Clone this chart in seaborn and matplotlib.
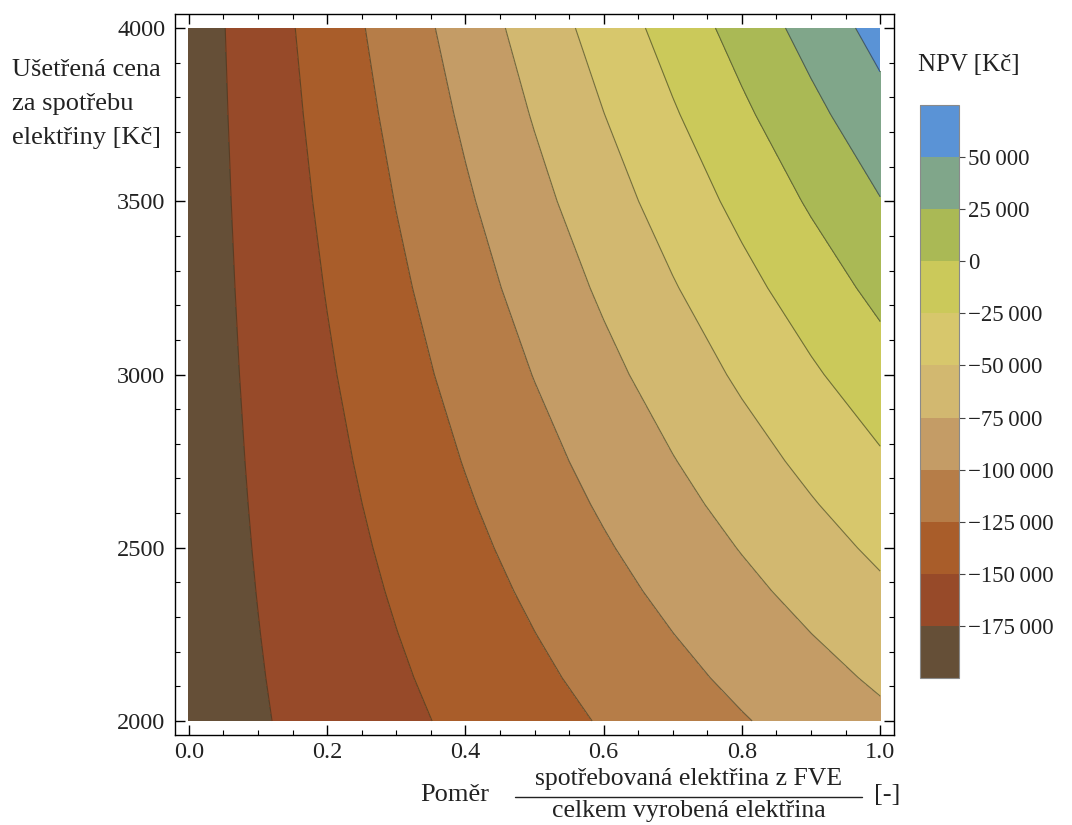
import numpy as np
import matplotlib
matplotlib.use("Agg")
import matplotlib.pyplot as plt
import seaborn as sns
from matplotlib.lines import Line2D
from matplotlib.colors import ListedColormap, BoundaryNorm
from matplotlib.ticker import MultipleLocator

# ---------------- data ----------------
ratio = [0.0, 0.1, 0.2, 0.3, 0.4, 0.5, 0.6, 0.7, 0.8, 0.9, 1.0]
price = [2000, 2125, 2250, 2375, 2500, 2625, 2750, 3000, 3250, 3500, 3750, 4000]
# NPV [Kč] at each (price row, ratio column)
npv_2000 = [-188000, -177200, -166400, -155600, -144800, -134000, -123200, -112400, -101600, -90800, -80000]
npv_2125 = [-188000, -176330, -164660, -152990, -141320, -129650, -117980, -106310, -94640, -82970, -71300]
npv_2250 = [-188000, -175470, -162940, -150410, -137880, -125350, -112820, -100290, -87760, -75230, -62700]
npv_2375 = [-188000, -174600, -161200, -147800, -134400, -121000, -107600, -94200, -80800, -67400, -54000]
npv_2500 = [-188000, -173730, -159460, -145190, -130920, -116650, -102380, -88110, -73840, -59570, -45300]
npv_2625 = [-188000, -172860, -157720, -142580, -127440, -112300, -97160, -82020, -66880, -51740, -36600]
npv_2750 = [-188000, -172000, -156000, -140000, -124000, -108000, -92000, -76000, -60000, -44000, -28000]
npv_3000 = [-188000, -170260, -152520, -134780, -117040, -99300, -81560, -63820, -46080, -28340, -10600]
npv_3250 = [-188000, -168530, -149060, -129590, -110120, -90650, -71180, -51710, -32240, -12770, 6700]
npv_3500 = [-188000, -166790, -145580, -124370, -103160, -81950, -60740, -39530, -18320, 2890, 24100]
npv_3750 = [-188000, -165060, -142120, -119180, -96240, -73300, -50360, -27420, -4480, 18460, 41400]
npv_4000 = [-188000, -163320, -138640, -113960, -89280, -64600, -39920, -15240, 9440, 34120, 58800]

levels = [-200000, -175000, -150000, -125000, -100000, -75000, -50000,
          -25000, 0, 25000, 50000, 75000]
band_colors = ['#654f37', '#974a29', '#a95d2a', '#b67d48', '#c49c66',
               '#d2b870', '#d7c76c', '#cbc95a', '#aab955', '#80a68a', '#5a93d6']
cbar_ticks = [-175000, -150000, -125000, -100000, -75000, -50000,
              -25000, 0, 25000, 50000]
x_major = [0.0, 0.2, 0.4, 0.6, 0.8, 1.0]
x_major_labels = ['0.0', '0.2', '0.4', '0.6', '0.8', '1.0']
y_major = [2000, 2500, 3000, 3500, 4000]

ylabel_lines = ['Ušetřená cena', 'za spotřebu', 'elektřiny [Kč]']
xlabel_left = 'Poměr'
xlabel_num = 'spotřebovaná elektřina z FVE'
xlabel_den = 'celkem vyrobená elektřina'
xlabel_right = '[-]'
cbar_title = 'NPV [Kč]'

npv = np.array([npv_2000, npv_2125, npv_2250, npv_2375, npv_2500, npv_2625,
                npv_2750, npv_3000, npv_3250, npv_3500, npv_3750, npv_4000])

# ---------------- style ----------------
sns.set_theme(style="white")
plt.rcParams['font.family'] = ['Liberation Serif', 'DejaVu Serif']
plt.rcParams['axes.unicode_minus'] = True
plt.rcParams['contour.negative_linestyle'] = 'solid'

TXT = '#222222'
W, H = 1072, 825
fig = plt.figure(figsize=(W / 100, H / 100), dpi=100)
fig.patch.set_facecolor('white')

ax = fig.add_axes([175 / W, 1 - 735 / H, (894 - 175) / W, (735 - 14) / H])
cmap = ListedColormap(band_colors)
norm = BoundaryNorm(levels, cmap.N)
cf = ax.contourf(ratio, price, npv, levels=levels, cmap=cmap, norm=norm)
ax.contour(ratio, price, npv, levels=levels[1:-1],
           colors=[(0.2, 0.2, 0.12, 0.6)], linewidths=0.8, linestyles='solid')

ax.set_xlim(-0.02, 1.02)
ax.set_ylim(1959.5, 4040.5)
ax.set_xticks(x_major)
ax.set_xticklabels(x_major_labels)
ax.set_yticks(y_major)
ax.xaxis.set_minor_locator(MultipleLocator(0.05))
ax.yaxis.set_minor_locator(MultipleLocator(100))
ax.tick_params(which='both', direction='in', top=True, right=True,
               bottom=True, left=True, color='black')
ax.tick_params(which='major', length=7, width=1.0)
ax.tick_params(which='minor', length=3.5, width=0.8)
ax.tick_params(axis='both', which='major', labelsize=17.5, labelcolor=TXT)
ax.tick_params(axis='x', which='major', pad=5)
ax.tick_params(axis='y', which='major', pad=7)
for s in ax.spines.values():
    s.set_color('black')
    s.set_linewidth(1.0)
    s.set_visible(True)

# ---------------- colour bar ----------------
cax = fig.add_axes([920 / W, 1 - 678 / H, 39 / W, (678 - 105) / H])
cb = fig.colorbar(cf, cax=cax, ticks=cbar_ticks)
cb.minorticks_off()


def fmt(v):
    s = f"{abs(v):,}".replace(",", "\u2009")
    return ("\u2212" if v < 0 else "") + s


cb.set_ticklabels([fmt(v) for v in cbar_ticks])
cb.outline.set_edgecolor('#8a8a8a')
cb.outline.set_linewidth(0.8)
cax.tick_params(which='major', direction='out', length=4.5, width=0.8, labelsize=16.5,
                pad=2, color='#444444', right=True, labelcolor=TXT)
fig.text(918 / W, 1 - 65 / H, cbar_title, fontsize=18, ha='left', va='center',
         color=TXT)

# ---------------- axis labels ----------------
for i, line in enumerate(ylabel_lines):
    fig.text(12 / W, 1 - (70 + 34 * i) / H, line, fontsize=19, ha='left',
             va='center', color=TXT)

fig.text(455 / W, 1 - 795 / H, xlabel_left, fontsize=19, ha='center', va='center',
         color=TXT)
fig.text(689 / W, 1 - 779 / H, xlabel_num, fontsize=18.5, ha='center', va='center',
         color=TXT)
fig.add_artist(Line2D([515 / W, 862 / W], [1 - 797 / H, 1 - 797 / H],
                      color=TXT, lw=1.0, transform=fig.transFigure))
fig.text(689 / W, 1 - 811 / H, xlabel_den, fontsize=18.5, ha='center', va='center',
         color=TXT)
fig.text(887 / W, 1 - 795 / H, xlabel_right, fontsize=19, ha='center', va='center',
         color=TXT)

fig.savefig('out.png', dpi=100, facecolor='white')
